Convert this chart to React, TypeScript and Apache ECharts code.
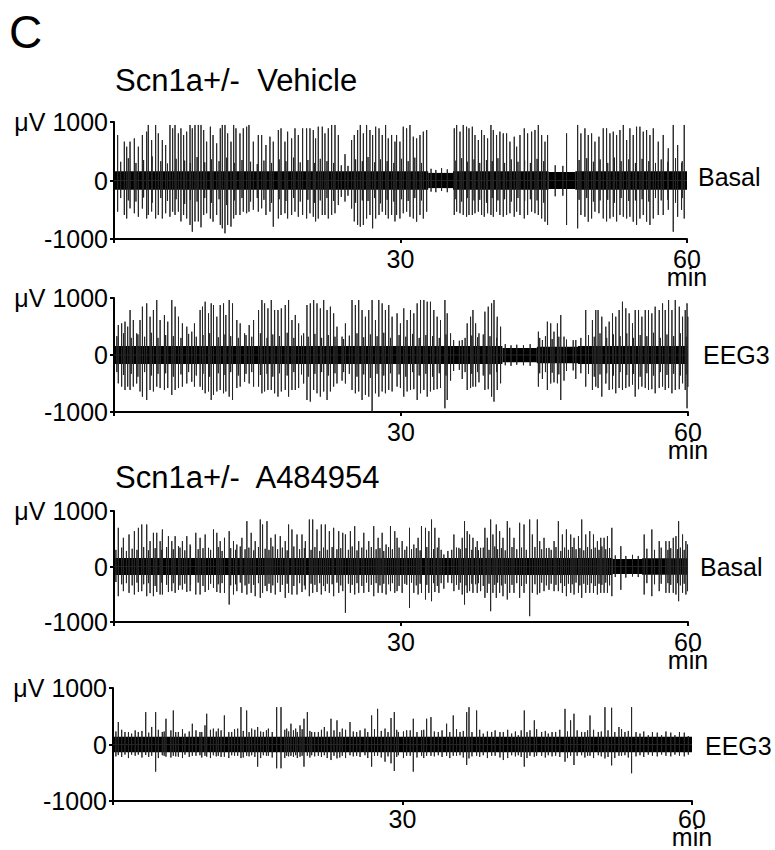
import React, { useEffect, useRef } from "react";
import * as echarts from "echarts";

// ---- data (minutes, µV) ----
const X_TICKS = [0, 30, 60];
const Y_TICKS = [-1000, 0, 1000];
const PANEL_TITLE = "C";
const GROUP_TITLES = ["Scn1a+/-  Vehicle", "Scn1a+/-  A484954"];
const TRACE_LABELS = ["Basal", "EEG3", "Basal", "EEG3"];
const UNIT_X = "min";
const UNIT_Y = "μV";

// large spikes: [time (min), peak (µV), trough (µV)]
const P1_SPIKES: number[][] = [
  [0.38,778,-533],[1.08,664,-590],[1.33,578,-650],[1.68,664,-476],[2.13,720,-560],[2.55,578,-620],[2.97,778,-480],[3.42,835,-650],[3.59,949,-590],[3.94,690,-530],[4.36,949,-650],[4.64,806,-590],[5.06,690,-650],[5.41,607,-560],[5.86,949,-620],[6.14,892,-533],[6.39,949,-590],[6.74,806,-533],[7.01,892,-700],[7.29,778,-590],[7.61,835,-650],[7.96,949,-760],[8.2,892,-875],[8.48,949,-700],[8.83,949,-700],[9.11,949,-800],[9.39,863,-590],[9.7,664,-560],[10.09,920,-650],[10.37,778,-704],[10.75,635,-590],[11.13,892,-760],[11.34,949,-818],[11.62,949,-903],[11.9,806,-760],[12.25,664,-789],[12.53,949,-650],[12.77,892,-590],[13.19,806,-590],[13.54,892,-533],[13.89,920,-560],[14.13,949,-533],[14.59,664,-500],[15.11,778,-533],[15.46,778,-476],[15.91,607,-590],[16.33,749,-533],[16.68,664,-789],[17.21,863,-650],[17.49,892,-590],[17.9,664,-560],[18.18,835,-650],[18.6,720,-590],[18.95,892,-533],[19.3,778,-620],[19.75,892,-590],[20.17,892,-650],[20.52,892,-560],[20.87,863,-620],[21.11,720,-700],[21.39,920,-650],[21.81,920,-590],[22.09,806,-590],[22.44,892,-650],[22.79,949,-590],[23.14,949,-560],[23.49,778,-420],[24.19,450,-360],[24.88,692,-480],[25.16,778,-700],[25.51,863,-760],[25.79,949,-790],[26.11,806,-761],[26.45,949,-650],[26.8,863,-590],[27.08,778,-818],[27.4,920,-650],[27.75,892,-590],[28.09,778,-533],[28.44,949,-590],[28.72,720,-650],[29.07,778,-590],[29.42,664,-700],
  [29.59,778,-590],[29.94,664,-650],[30.29,920,-560],[30.64,892,-533],[30.99,949,-620],[31.34,749,-650],[31.69,720,-704],[32.04,778,-590],[32.39,835,-650],[32.74,863,-533],
  [35.63,892,-590],[35.88,949,-533],[36.23,835,-560],[36.57,949,-590],[36.92,920,-620],[37.17,892,-590],[37.52,920,-590],[37.8,778,-560],[38.15,692,-533],[38.49,863,-590],[38.77,778,-620],[39.12,720,-560],[39.47,949,-590],[39.72,863,-620],[40.06,778,-533],[40.41,835,-590],[40.76,806,-620],[41.11,806,-590],[41.46,664,-560],[41.91,749,-620],[42.16,578,-533],[42.51,778,-590],[42.96,892,-650],[43.31,806,-590],[43.73,835,-533],[44.08,863,-560],[44.43,949,-590],[44.78,778,-650],[45.13,664,-704],[45.4,778,-761],
  [47.39,806,-761],[48.55,949,-818],[48.89,806,-590],[49.31,892,-620],[49.66,778,-704],[50.01,806,-650],[50.36,664,-533],[50.78,749,-560],[51.23,892,-650],[51.58,892,-700],[51.93,806,-650],[52.28,835,-620],[52.63,778,-700],[52.98,863,-590],[53.33,949,-620],[53.68,692,-650],[54.02,892,-620],[54.37,778,-704],[54.72,920,-760],[55.07,920,-650],[55.42,835,-590],[55.77,863,-704],[56.12,778,-760],[56.47,892,-650],[56.99,664,-590],[57.51,778,-590],[58.04,550,-500],[58.56,949,-875],[59.02,607,-620],[59.43,300,-500],[59.71,949,-650]
];

const P2_SPIKES: number[][] = [
  [0.45,526,-497],[0.8,555,-555],[1.15,585,-614],[1.43,497,-555],[1.68,789,-614],[2.02,614,-555],[2.37,380,-500],[2.72,614,-640],[2.97,848,-731],[3.42,906,-789],[3.77,672,-614],[4.12,789,-640],[4.47,965,-555],[4.82,614,-580],[5.27,702,-614],[5.62,585,-580],[6.04,965,-702],[6.39,848,-614],[6.74,672,-580],[7.15,555,-555],[7.61,497,-500],[8.13,409,-470],[8.41,555,-555],[9.0,789,-555],[9.25,848,-614],[9.53,935,-672],[9.88,731,-640],[10.16,906,-789],[10.4,877,-700],[10.75,672,-640],[11.1,877,-614],[11.45,906,-672],[11.69,702,-640],[12.04,965,-731],[12.39,906,-789],[12.84,614,-580],[13.19,555,-555],[13.65,380,-470],[14.13,526,-500],[14.59,614,-555],[15.11,789,-555],[15.46,965,-672],[15.74,906,-640],[16.09,818,-614],[16.44,965,-614],[16.79,789,-672],[17.14,789,-731],[17.49,818,-640],[17.9,877,-614],[18.25,965,-731],[18.6,614,-614],[18.95,702,-614],[19.3,555,-580],[19.82,380,-500],[20.17,877,-789],[20.52,906,-818],[20.87,965,-614],[21.22,906,-672],[21.57,818,-731],[21.92,965,-640],[22.27,789,-789],[22.62,848,-640],[22.96,731,-555],[23.31,497,-500],[23.84,322,-450],[24.19,555,-500],[24.88,965,-614],[25.23,877,-672],[25.58,965,-640],[25.93,789,-789],[26.28,672,-700],[26.63,789,-731],[26.98,965,-994],[27.33,614,-672],[27.68,965,-731],[28.03,906,-640],[28.37,789,-672],[28.72,877,-614],[29.07,672,-640],
  [29.59,731,-555],[29.94,555,-580],[30.29,818,-731],[30.64,614,-640],[30.99,789,-614],[31.34,731,-600],[31.69,906,-789],[32.04,965,-672],[32.39,965,-614],[32.74,935,-731],[33.08,935,-640],[33.43,789,-614],[33.78,672,-600],[34.13,614,-580],[34.59,965,-935],[34.83,731,-789],[35.18,380,-450],[36.4,263,-420],[36.92,555,-614],[37.27,672,-580],[37.52,789,-555],[37.8,555,-555],[38.15,380,-480],[38.77,760,-614],[39.12,848,-600],[39.47,906,-731],[39.72,965,-818],[40.06,672,-614],[40.41,497,-497],
  [44.36,409,-555],[44.78,263,-420],[45.3,585,-614],[45.65,555,-500],[45.99,409,-480],[46.35,555,-497],[46.7,702,-789],[47.04,322,-450],[48.27,263,-420],[49.31,789,-555],[50.01,614,-614],[50.36,789,-555],[50.6,789,-580],[50.99,672,-731],[51.41,497,-500],[51.76,585,-614],[52.11,731,-600],[52.45,672,-672],[52.8,789,-580],[53.15,935,-614],[53.5,818,-580],[53.85,731,-555],[54.2,555,-520],[54.48,789,-731],[54.83,789,-600],[55.18,672,-555],[55.53,789,-580],[55.87,789,-614],[56.22,731,-600],[56.57,848,-672],[56.99,789,-580],[57.34,906,-555],[57.62,789,-614],[57.97,965,-580],[58.32,789,-672],[58.67,965,-614],[59.09,848,-600],[59.43,672,-497],[59.71,789,-614],[59.9,906,-935],[59.98,672,-560]
];

const P3_SPIKES: number[][] = [
  [0.45,697,-535],[0.98,517,-444],[1.57,577,-475],[2.13,637,-505],[2.55,697,-460],[2.9,757,-444],[3.42,757,-535],[3.77,457,-480],[4.12,607,-535],[4.47,607,-460],[4.82,457,-505],[5.06,667,-505],[5.69,547,-460],[6.04,457,-444],[6.39,547,-475],[6.74,366,-420],[7.15,457,-414],[7.61,547,-460],[7.96,396,-444],[8.55,607,-505],[9.0,517,-505],[9.53,577,-460],[9.88,336,-420],[10.4,667,-384],[10.75,607,-460],[11.1,457,-475],[11.55,517,-475],[12.04,637,-685],[12.49,457,-505],[12.84,396,-444],[13.37,517,-475],[13.89,817,-505],[14.34,607,-475],[14.76,457,-535],[15.29,847,-565],[15.53,757,-475],[15.99,817,-444],[16.4,517,-475],[16.86,577,-505],[17.38,547,-460],[17.9,457,-565],[18.25,757,-475],[18.6,667,-505],[19.13,577,-505],[19.65,577,-460],[20.0,457,-414],[20.42,847,-535],[20.77,847,-475],[21.22,667,-460],[21.67,757,-505],[22.09,757,-444],[22.51,637,-475],[22.96,697,-535],[23.49,637,-475],[23.91,607,-444],[24.19,577,-835],[24.71,637,-475],[25.16,727,-505],[25.58,457,-475],[26.11,607,-475],[26.63,457,-460],[27.15,727,-535],[27.61,517,-475],[28.03,607,-475],[28.44,396,-505],[28.9,727,-444],[29.35,637,-475],
  [29.59,517,-444],[30.12,457,-475],[30.89,697,-745],[31.34,396,-475],[31.79,517,-505],[32.14,727,-475],[32.56,697,-595],[32.91,637,-475],[33.19,847,-625],[33.54,697,-460],[33.96,517,-475],[34.48,216,-400],[35.53,577,-444],[36.05,336,-420],[36.4,517,-505],[36.64,817,-685],[36.92,637,-475],[37.17,577,-444],[37.52,517,-475],[37.97,457,-475],[38.32,336,-444],[38.77,697,-565],[39.02,517,-475],[39.37,847,-805],[39.61,577,-475],[39.96,757,-565],[40.31,637,-475],[40.66,517,-535],[41.11,817,-595],[41.36,697,-475],[41.81,517,-475],[42.4,787,-565],[42.86,757,-475],[43.45,847,-895],[43.73,577,-475],[44.25,847,-505],[44.5,457,-475],[44.95,517,-444],[45.47,336,-420],[46.0,457,-444],[46.45,817,-444],[46.87,577,-475],[47.29,667,-535],[47.74,577,-475],[48.09,517,-505],[48.55,547,-475],[48.89,847,-565],[49.31,577,-475],[49.73,637,-475],[50.12,577,-475],[50.53,457,-505],[50.88,517,-475],[51.23,517,-475],[51.58,547,-475],[52.04,697,-535],[52.98,366,-420],[55.42,577,-505],[56.22,667,-535],[56.99,457,-444],[57.69,457,-475],[58.04,457,-475],[58.46,517,-475],[58.74,547,-505],[59.02,817,-625],[59.43,577,-475],[59.78,457,-505],[59.95,396,-444]
];

const P4_SPIKES: number[][] = [
  [0.55,398,-187],[1.24,222,-180],[1.93,193,-180],[2.62,222,-180],[3.39,573,-187],[4.01,310,-200],[4.42,573,-480],[5.11,222,-190],[5.49,456,-216],[6.25,602,-200],[6.77,222,-216],[7.46,193,-180],[8.22,368,-200],[9.01,222,-190],[9.53,339,-200],[9.71,544,-216],[10.4,281,-190],[10.91,281,-200],[11.54,514,-216],[12.3,222,-190],[12.92,281,-200],[13.26,661,-240],[13.85,602,-200],[14.37,281,-190],[14.99,310,-392],[15.58,222,-190],[16.1,281,-200],[16.96,661,-421],[17.41,661,-421],[18.0,281,-200],[18.44,368,-200],[18.93,281,-190],[19.38,339,-216],[19.79,456,-392],[20.14,573,-200],[20.59,222,-190],[21.28,222,-200],[21.9,310,-190],[22.59,456,-275],[23.21,427,-246],[23.76,281,-200],[24.56,398,-190],[25.25,222,-200],[26.11,281,-190],[26.8,514,-392],[27.42,631,-200],[28.19,281,-304],[28.81,468,-333],[29.15,573,-468],[29.57,222,-190],
  [30.43,251,-200],[31.12,456,-480],[31.98,251,-200],[32.5,456,-200],[32.95,485,-200],[33.71,222,-190],[34.57,368,-200],[35.26,514,-200],[35.96,222,-190],[36.65,573,-363],[36.89,661,-246],[37.68,602,-200],[38.37,193,-190],[39.24,222,-200],[40.45,222,-275],[41.31,193,-190],[42.0,164,-190],[42.62,602,-392],[43.21,251,-200],[43.66,427,-216],[44.42,222,-200],[45.11,193,-190],[45.87,222,-200],[46.84,631,-304],[47.42,427,-200],[47.77,544,-363],[48.56,222,-190],[49.18,251,-200],[49.43,514,-200],[50.29,222,-190],[50.98,661,-246],[51.67,650,-370],[52.43,310,-200],[53.05,222,-190],[53.74,661,-509],[54.61,193,-190],[55.47,164,-180],[56.85,164,-180],[58.23,164,-180],[59.62,150,-180]
];

// smaller deflections at the edge of the background activity: [time, peak, trough]
const P1_MID: number[][] = [
  [0.7,320,-300],[1.5,380,-340],[2.3,300,-360],[3.1,350,-290],[4.0,410,-380],[4.9,330,-300],[5.6,290,-350],[6.5,370,-320],[7.4,340,-400],[8.0,300,-330],[8.7,400,-360],[9.5,310,-300],[10.2,360,-380],[11.0,330,-320],[11.8,390,-420],[12.6,300,-340],[13.4,350,-300],[14.3,320,-360],[15.0,280,-300],[15.7,340,-330],[16.5,300,-380],[17.3,360,-320],[18.0,330,-350],[18.8,390,-300],[19.5,310,-360],[20.3,350,-330],[21.0,300,-380],[21.6,370,-340],[22.3,330,-300],[23.0,300,-350],[23.8,260,-280],[24.5,250,-260],[25.3,360,-380],[26.0,330,-340],[26.6,400,-350],[27.3,310,-300],[27.9,360,-390],[28.6,330,-330],[29.3,300,-360],[30.1,370,-320],[30.8,330,-350],[31.5,390,-300],[32.2,300,-340],
  [33.2,200,-190],[33.7,180,-200],[34.3,210,-180],[34.9,190,-200],
  [35.8,340,-320],[36.4,380,-360],[37.0,320,-300],[37.7,360,-340],[38.3,300,-330],[39.0,350,-380],[39.6,330,-300],[40.2,380,-340],[40.9,300,-320],[41.6,360,-360],[42.3,320,-300],[43.0,340,-350],[43.6,300,-320],[44.3,370,-340],[45.0,330,-380],[46.2,260,-270],[47.0,250,-260],[48.7,350,-330],[49.5,380,-300],[50.2,320,-360],[50.9,360,-340],[51.7,300,-330],[52.4,390,-380],[53.1,330,-300],[53.9,360,-350],[54.6,300,-340],[55.3,370,-320],[56.0,330,-360],[56.7,300,-300],[57.3,360,-340],[58.0,320,-330],[58.8,380,-380],[59.5,330,-300]
];
const P2_MID: number[][] = [
  [0.3,330,-300],[1.0,380,-350],[1.8,300,-330],[2.5,360,-380],[3.2,320,-300],[3.9,390,-360],[4.6,300,-330],[5.4,350,-320],[6.2,330,-380],[7.0,300,-340],[7.8,370,-300],[8.6,320,-360],[9.3,350,-330],[10.0,380,-380],[10.9,310,-320],[11.6,360,-350],[12.2,330,-300],[13.0,300,-360],[13.8,350,-330],[14.4,320,-300],[15.3,380,-350],[16.0,300,-330],[16.6,360,-380],[17.3,330,-320],[18.1,390,-360],[18.8,300,-300],[19.6,340,-340],[20.3,320,-380],[21.0,370,-330],[21.7,300,-300],[22.4,350,-360],[23.1,320,-320],[24.0,280,-300],[24.6,340,-330],[25.4,380,-380],[26.1,310,-340],[26.8,360,-400],[27.5,330,-330],[28.2,390,-360],[28.9,300,-320],[29.8,350,-340],[30.5,320,-380],[31.2,370,-300],[31.9,300,-360],[32.6,350,-330],[33.3,330,-380],[34.0,300,-320],[34.7,360,-360],[35.5,260,-280],[36.1,250,-260],[36.7,300,-300],[37.4,340,-330],[38.0,310,-300],[38.6,360,-360],[39.3,330,-340],[40.0,300,-300],
  [40.9,190,-180],[41.5,170,-190],[42.1,180,-170],[42.8,170,-180],[43.5,190,-190],
  [44.5,300,-320],[45.1,330,-300],[45.8,280,-310],[46.5,320,-340],[47.3,270,-280],[48.0,260,-270],[48.8,300,-320],[49.6,350,-330],[50.2,320,-380],[50.8,380,-340],[51.5,300,-320],[52.2,360,-360],[52.9,330,-300],[53.6,380,-350],[54.3,300,-330],[55.0,350,-380],[55.7,330,-320],[56.4,390,-360],[57.1,300,-300],[57.8,360,-350],[58.5,330,-330],[59.2,380,-360],[59.8,320,-340]
];
const P3_MID: number[][] = [
  [0.2,300,-280],[0.8,340,-320],[1.3,280,-300],[1.9,320,-340],[2.4,300,-290],[3.1,350,-320],[3.6,290,-300],[4.3,330,-350],[5.0,300,-290],[5.5,350,-330],[6.2,310,-300],[6.9,340,-340],[7.4,290,-310],[8.0,360,-330],[8.8,310,-290],[9.3,330,-350],[10.1,300,-310],[10.9,350,-320],[11.3,280,-300],[12.2,330,-340],[12.7,300,-320],[13.2,360,-290],[13.7,310,-340],[14.1,340,-310],[14.6,290,-330],[15.1,350,-300],[15.8,320,-350],[16.2,300,-310],[16.6,360,-340],[17.1,310,-290],[17.6,340,-330],[18.1,290,-310],[18.8,360,-350],[19.4,310,-300],[19.9,330,-340],[20.6,300,-310],[21.0,350,-330],[21.5,280,-300],[21.9,340,-350],[22.3,300,-310],[22.8,350,-320],[23.3,310,-290],[23.7,330,-340],[24.5,300,-310],[24.9,360,-330],[25.4,290,-300],[25.9,340,-350],[26.4,300,-290],[26.9,350,-330],[27.4,310,-300],[27.8,330,-340],[28.2,280,-310],[28.7,350,-320],[29.1,310,-300],[29.8,340,-350],[30.4,300,-310],[30.6,360,-330],[31.1,310,-290],[31.6,330,-340],[32.0,290,-310],[32.7,350,-330],[33.4,310,-300],[33.8,340,-350],[34.2,300,-300],[34.9,280,-290],[35.3,300,-300],[35.8,340,-330],[36.2,310,-290],[36.8,330,-340],[37.4,300,-310],[37.8,350,-320],[38.1,290,-300],[38.6,340,-350],[39.2,300,-310],[39.8,360,-330],[40.1,310,-290],[40.5,330,-340],[40.9,290,-310],[41.6,350,-330],[42.1,310,-300],[42.6,340,-350],[43.1,300,-310],[44.0,350,-320],[44.7,310,-290],[45.2,330,-340],[45.7,300,-310],[46.2,350,-330],[46.7,280,-300],[47.1,340,-350],[47.5,300,-310],[47.9,350,-320],[48.3,310,-290],[48.7,330,-340],[49.1,290,-310],[49.5,350,-330],[49.9,310,-300],[50.3,340,-350],[50.7,300,-310],[51.0,360,-330],[51.4,310,-290],[51.8,330,-340],
  [52.4,200,-190],[53.5,190,-200],[54.2,210,-180],[54.8,190,-190],
  [55.7,320,-300],[56.5,300,-320],[57.2,340,-310],[57.9,300,-300],[58.2,330,-330],[58.9,310,-300],[59.2,340,-340],[59.6,300,-310]
];
const P4_MID: number[][] = [
  [0.3,230,-210],[0.9,260,-220],[1.6,220,-240],[2.3,250,-200],[3.0,240,-230],[3.7,210,-220],[4.7,260,-240],[5.3,230,-200],[6.0,250,-230],[6.5,220,-210],[7.2,270,-240],[7.9,230,-220],[8.6,250,-200],[9.2,220,-230],[10.1,260,-240],[10.7,230,-210],[11.2,250,-220],[12.0,220,-240],[12.6,270,-200],[13.5,240,-230],[14.1,220,-210],[14.7,260,-220],[15.3,230,-240],[15.9,250,-200],[16.5,220,-230],[17.8,260,-240],[18.2,230,-210],[18.7,250,-220],[19.1,220,-240],[19.6,270,-200],[20.4,240,-230],[20.9,220,-210],[21.6,260,-220],[22.2,230,-240],[22.9,250,-200],[23.5,220,-230],[24.1,260,-240],[24.9,230,-210],[25.6,250,-220],[26.4,220,-240],[27.1,270,-200],[27.8,240,-230],[28.5,220,-210],[29.4,260,-220],[30.1,230,-240],[30.8,250,-200],[31.5,220,-230],[32.2,260,-240],[33.3,230,-210],[34.1,250,-220],[34.9,220,-240],[35.6,270,-200],[36.3,240,-230],[37.2,220,-210],[38.0,260,-220],[38.8,230,-240],[39.6,250,-200],[40.1,220,-230],[40.9,260,-240],[41.7,230,-210],[42.3,250,-220],[42.9,220,-240],[43.9,270,-200],[44.8,240,-230],[45.5,220,-210],[46.3,260,-220],[47.1,230,-240],[48.1,250,-200],[48.9,220,-230],[49.8,260,-240],[50.6,230,-210],[51.3,250,-220],[52.0,220,-240],[52.7,270,-200],[53.4,240,-230],[54.2,220,-210],[55.0,230,-220],[55.9,220,-200],[56.4,210,-210],[57.3,230,-200],[57.8,210,-210],[58.7,220,-200],[59.2,210,-210]
];

// background activity envelope: [start (min), end (min), half width (µV)]
const P1_BAND: number[][] = [[0,32.9,160],[32.9,35.5,130],[35.5,45.5,160],[45.5,48.3,145],[48.3,60,160]];
const P2_BAND: number[][] = [[0,40.6,160],[40.6,44.2,125],[44.2,48.5,145],[48.5,60,160]];
const P3_BAND: number[][] = [[0,52.1,155],[52.1,55.2,135],[55.2,60,150]];
const P4_BAND: number[][] = [[0,60,135]];

const FONT = "'Liberation Sans', Arial, sans-serif";

const PANELS = [
  { spikes: P1_SPIKES, mid: P1_MID, band: P1_BAND, label: TRACE_LABELS[0], left: 114, right: 88, top: 122, height: 117, lx: 698, ly: 177, xm: 12 },
  { spikes: P2_SPIKES, mid: P2_MID, band: P2_BAND, label: TRACE_LABELS[1], left: 114, right: 87, top: 298, height: 114, lx: 703, ly: 355, xm: 12 },
  { spikes: P3_SPIKES, mid: P3_MID, band: P3_BAND, label: TRACE_LABELS[2], left: 114, right: 87, top: 511, height: 111, lx: 700, ly: 567, xm: 12 },
  { spikes: P4_SPIKES, mid: P4_MID, band: P4_BAND, label: TRACE_LABELS[3], left: 113, right: 83, top: 688, height: 113, lx: 705, ly: 746, xm: 10 },
];

function traceOf(spikes: number[][], mid: number[][]) {
  const all = spikes.concat(mid).slice().sort((a, b) => a[0] - b[0]);
  const pts: number[][] = [[0, 0]];
  for (const [t, hi, lo] of all) {
    pts.push([t, 0], [t, hi], [t, lo], [t, 0]);
  }
  pts.push([60, 0]);
  return pts;
}

export default function App() {
  const ref = useRef<HTMLDivElement>(null);
  useEffect(() => {
    document.body.style.margin = "0";
    if (!ref.current) return;
    const chart = echarts.init(ref.current, undefined, { renderer: "svg" });
    const grid: any[] = [];
    const xAxis: any[] = [];
    const yAxis: any[] = [];
    const series: any[] = [];
    const graphic: any[] = [];
    PANELS.forEach((p, i) => {
      grid.push({ left: p.left, right: p.right, top: p.top, height: p.height, containLabel: false });
      xAxis.push({
        gridIndex: i, type: "value", min: X_TICKS[0], max: X_TICKS[2], interval: X_TICKS[1] - X_TICKS[0],
        axisLine: { show: true, onZero: false, lineStyle: { color: "#000", width: 2 } },
        axisTick: { show: true, length: 4, lineStyle: { color: "#000", width: 2 } },
        splitLine: { show: false },
        axisLabel: {
          show: true, showMaxLabel: true, showMinLabel: true, margin: p.xm, fontSize: 25, lineHeight: 16,
          color: "#000", fontFamily: FONT,
          formatter: (v: number) =>
            v === X_TICKS[0] ? "" : v === X_TICKS[2] ? "{a|" + v + "}\n{b|" + UNIT_X + "}" : String(v),
          rich: {
            a: { fontSize: 25, lineHeight: 16, fontFamily: FONT, color: "#000" },
            b: { fontSize: 25, lineHeight: 20, fontFamily: FONT, color: "#000" },
          },
        },
      });
      yAxis.push({
        gridIndex: i, type: "value", min: Y_TICKS[0], max: Y_TICKS[2], interval: Y_TICKS[2] - Y_TICKS[1],
        axisLine: { show: true, onZero: false, lineStyle: { color: "#000", width: 2 } },
        axisTick: { show: true, length: 4, lineStyle: { color: "#000", width: 2 } },
        splitLine: { show: false },
        axisLabel: {
          show: true, showMaxLabel: true, showMinLabel: true, margin: 6, fontSize: 25, color: "#000", fontFamily: FONT,
          formatter: (v: number) => (v === Y_TICKS[2] ? UNIT_Y + " " + v : String(v)),
        },
      });
      series.push({
        type: "line", xAxisIndex: i, yAxisIndex: i, data: traceOf(p.spikes, p.mid),
        symbol: "none", showSymbol: false, silent: true, animation: false,
        lineStyle: { color: "#262626", width: 1 },
        markArea: {
          silent: true,
          itemStyle: { color: "#000", opacity: 1 },
          data: p.band.map(([a, b, h]) => [{ xAxis: a, yAxis: -h }, { xAxis: b, yAxis: h }]),
        },
      });
      graphic.push({
        type: "text", x: p.lx, y: p.ly,
        style: { text: p.label, fontSize: 25, fontFamily: FONT, fill: "#000", verticalAlign: "middle" },
      });
    });
    graphic.push({
      type: "text", x: 9, y: 32,
      style: { text: PANEL_TITLE, fontSize: 46, fontFamily: FONT, fill: "#000", verticalAlign: "middle" },
    });
    graphic.push({
      type: "text", x: 115, y: 80,
      style: { text: GROUP_TITLES[0], fontSize: 31, fontFamily: FONT, fill: "#000", verticalAlign: "middle" },
    });
    graphic.push({
      type: "text", x: 115, y: 477,
      style: { text: GROUP_TITLES[1], fontSize: 31, fontFamily: FONT, fill: "#000", verticalAlign: "middle" },
    });
    chart.setOption({
      animation: false,
      backgroundColor: "#fff",
      grid, xAxis, yAxis, series, graphic,
    });
    return () => chart.dispose();
  }, []);
  return <div ref={ref} style={{ width: 775, height: 850 }} />;
}
